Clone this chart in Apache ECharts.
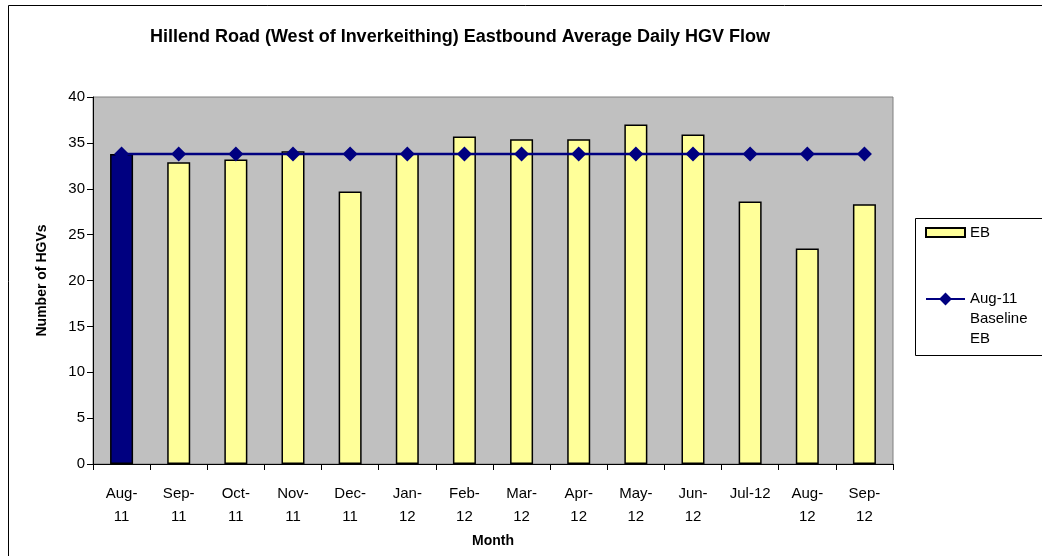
<!DOCTYPE html>
<html>
<head>
<meta charset="utf-8">
<script src="https://cdn.jsdelivr.net/npm/echarts@6/dist/echarts.min.js"></script>
<style>
html,body{margin:0;padding:0;background:#fff;}
#chart{width:1042px;height:556px;}
</style>
</head>
<body>
<div id="chart"></div>
<script>
const categories = ['Aug-11','Sep-11','Oct-11','Nov-11','Dec-11','Jan-12','Feb-12','Mar-12','Apr-12','May-12','Jun-12','Jul-12','Aug-12','Sep-12'];
const tickLabels = ['Aug-\n11','Sep-\n11','Oct-\n11','Nov-\n11','Dec-\n11','Jan-\n12','Feb-\n12','Mar-\n12','Apr-\n12','May-\n12','Jun-\n12','Jul-12','Aug-\n12','Sep-\n12'];
const ebValues = [33.8, 32.9, 33.2, 34.1, 29.7, 33.9, 35.7, 35.4, 35.4, 37.0, 35.9, 28.6, 23.5, 28.3];
const baselineValues = [33.8, 33.8, 33.8, 33.8, 33.8, 33.8, 33.8, 33.8, 33.8, 33.8, 33.8, 33.8, 33.8, 33.8];
const yTicks = [0, 5, 10, 15, 20, 25, 30, 35, 40];

const FONT = '"Liberation Sans", Arial, sans-serif';
const chart = echarts.init(document.getElementById('chart'), null, {renderer: 'canvas'});

const barData = ebValues.map((v, i) => i === 0
  ? {value: v, itemStyle: {color: '#000080', borderColor: '#000000'}}
  : v);

chart.setOption({
  animation: false,
  backgroundColor: '#ffffff',
  title: {
    text: 'Hillend Road (West of Inverkeithing) Eastbound Average Daily HGV Flow',
    left: 455, top: 23, textAlign: 'center',
    textStyle: {fontFamily: FONT, fontSize: 18, fontWeight: 'bold', color: '#000'}
  },
  graphic: [
    {type: 'rect', silent: true, z: -10, shape: {x: 8.5, y: 5.5, width: 1100, height: 600},
     style: {fill: '#fff', stroke: '#000', lineWidth: 1}},
    {type: 'rect', silent: true, z: 0, shape: {x: 915.5, y: 218.5, width: 200, height: 137},
     style: {fill: '#fff', stroke: '#000', lineWidth: 1}}
  ],
  legend: [
    {
      data: ['EB'], left: 920, top: 220, orient: 'vertical',
      itemWidth: 39, itemHeight: 9, itemGap: 0,
      textStyle: {fontFamily: FONT, fontSize: 15, color: '#000'},
      icon: 'rect'
    },
    {
      data: ['Aug-11 Baseline EB'], left: 920, top: 244, orient: 'vertical',
      itemWidth: 39, itemHeight: 16,
      formatter: () => '\n\nAug-11\nBaseline\nEB',
      textStyle: {fontFamily: FONT, fontSize: 15, color: '#000', lineHeight: 20}
    }
  ],
  grid: {
    left: 93, right: 149, top: 97, bottom: 92,
    show: true, backgroundColor: '#C0C0C0', borderColor: '#808080', borderWidth: 1
  },
  xAxis: {
    type: 'category',
    data: categories,
    name: 'Month', nameLocation: 'middle', nameGap: 70,
    nameTextStyle: {fontFamily: FONT, fontSize: 14, fontWeight: 'bold', color: '#000'},
    axisLine: {lineStyle: {color: '#000', width: 1}},
    axisTick: {show: true, interval: 0, length: 6, lineStyle: {color: '#000'}},
    axisLabel: {
      interval: 0, margin: 18, color: '#000', fontFamily: FONT, fontSize: 15, lineHeight: 23,
      formatter: (v, i) => tickLabels[i]
    },
    splitLine: {show: false}
  },
  yAxis: {
    type: 'value', min: 0, max: 40, interval: 5,
    name: 'Number of HGVs', nameLocation: 'middle', nameGap: 44, nameRotate: 90,
    nameTextStyle: {fontFamily: FONT, fontSize: 14, fontWeight: 'bold', color: '#000'},
    axisLine: {show: true, lineStyle: {color: '#000', width: 1}},
    axisTick: {show: true, length: 6, lineStyle: {color: '#000'}},
    axisLabel: {color: '#000', fontFamily: FONT, fontSize: 15, margin: 8,
      formatter: v => yTicks.includes(v) ? String(v) : ''},
    splitLine: {show: false}
  },
  series: [
    {
      name: 'EB', type: 'bar', data: barData, barWidth: 23,
      itemStyle: {color: '#FFFF99', borderColor: '#000000', borderWidth: 1.5},
      z: 2
    },
    {
      name: 'Aug-11 Baseline EB', type: 'line', data: baselineValues,
      symbol: 'diamond', symbolSize: 15,
      lineStyle: {color: '#000080', width: 2.5},
      itemStyle: {color: '#000080'},
      z: 3
    }
  ]
});
</script>
</body>
</html>
